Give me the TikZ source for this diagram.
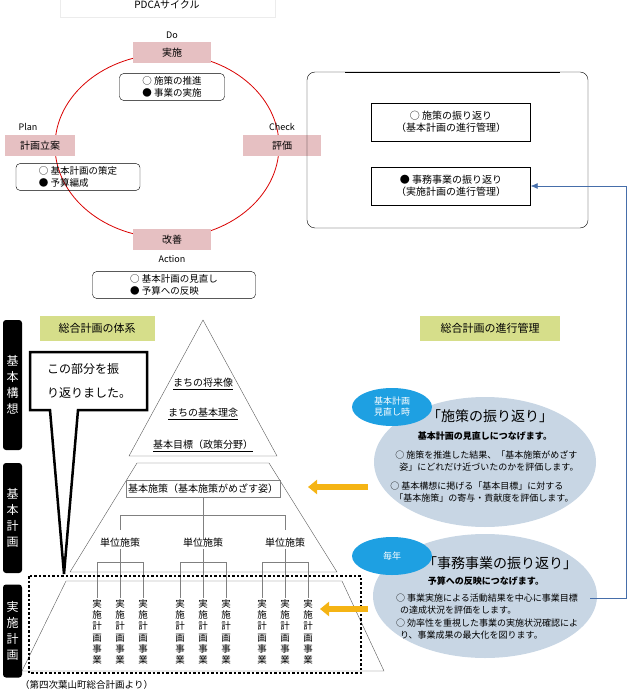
\documentclass[tikz,border=0pt]{standalone}
\usepackage{fontspec}
\setmainfont{Noto Sans CJK JP}
\usepackage{tikz}
\usepackage{xcolor}
\definecolor{pdca_pink}{RGB}{230,192,194}
\definecolor{plan_green}{RGB}{214,222,138}
\definecolor{eval_grey}{RGB}{200,214,228}
\definecolor{tag_blue}{RGB}{30,160,226}
\definecolor{arr_yellow}{RGB}{245,180,20}
\definecolor{link_blue}{RGB}{70,110,170}
\usetikzlibrary{calc, arrows.meta, positioning, shapes.geometric}

\begin{document}
\begin{tikzpicture}[x=1pt,y=-1pt,
    phase/.style={fill=pdca_pink,minimum width=78,minimum height=21,inner sep=0,font=\fontsize{10}{12}\selectfont},
    memo/.style={draw,rounded corners=4,align=left,font=\fontsize{9.5}{12}\selectfont,inner sep=3},
    plain/.style={draw,align=center,font=\fontsize{10}{12.5}\selectfont,inner sep=3},
    greenlabel/.style={fill=plan_green,minimum height=25,font=\fontsize{11}{13}\selectfont},
    sidebar/.style={fill=black,rounded corners=3,text=white,minimum width=19,align=center,font=\fontsize{12}{16}\selectfont},
    jigyo/.style={align=center,inner sep=0,fill=white,font=\fontsize{9.5}{11.3}\selectfont},
    tani/.style={inner sep=1,font=\fontsize{10}{12}\selectfont},
    tag/.style={ellipse,fill=tag_blue,text=white,align=center,minimum width=80,minimum height=38,inner sep=0,font=\fontsize{9}{11}\selectfont},
    goldarrow/.style={arr_yellow,line width=6,-{Triangle[length=9,width=14]}}]
\useasboundingbox (0,0) rectangle (628,692);
%PDCAサイクル
\draw[gray!15] (60,-2) rectangle (275,17);
\node (title) at (167,5) {\fontsize{10}{12}\selectfont PDCAサイクル};
\draw[red!85!black,thick] (167,146) ellipse (112 and 92);
\node[phase] (do) at (172,53) {実施};
\node[phase,minimum width=70] (plan) at (40,146) {計画立案};
\node[phase] (check) at (282,146) {評価};
\node[phase] (act) at (172,240) {改善};
\node[above=0pt of do,font=\small] (dolbl) {Do};
\node[above=1pt of plan,font=\small,xshift=-12] (planlbl) {Plan};
\node[above=1pt of check,font=\small] (checklbl) {Check};
\node[below=1pt of act,font=\small] (actlbl) {Action};
\node[memo,minimum width=105] (domemo) at (172,87) {○ 施策の推進\\● 事業の実施};
\node[memo,minimum width=124] (planmemo) at (78,177) {○ 基本計画の策定\\● 予算編成};
\node[memo,minimum width=163] (actmemo) at (174,285) {○ 基本計画の見直し\\● 予算への反映};
%評価の内容
\draw[rounded corners=8] (307,72) rectangle (588,228);
\draw[thick] (345,72) -- (560,72);
\node[plain,minimum width=159,minimum height=38] (rev1) at (451,122) {○ 施策の振り返り\\（基本計画の進行管理）};
\node[plain,minimum width=159,minimum height=38] (rev2) at (451,186) {● 事務事業の振り返り\\（実施計画の進行管理）};
%総合計画の体系
\node[sidebar,minimum height=130] (kousou) at (12.5,385) {基\\本\\構\\想};
\node[sidebar,minimum height=110] (keikaku) at (12.5,518) {基\\本\\計\\画};
\node[sidebar,minimum height=93] (jisshi) at (12.5,631) {実\\施\\計\\画};
\node[greenlabel,minimum width=115] (taikei) at (97,328) {総合計画の体系};
\node[greenlabel,minimum width=140] (kanri) at (490,328) {総合計画の進行管理};
%ピラミッド
\draw[gray!70!black] (203,320) -- (277,456) -- (129,456) -- cycle;
\draw[gray!70!black] (137,463) -- (269,463) -- (337,572) -- (70,572) -- cycle;
\draw[gray!70!black] (66,581) -- (342,581) -- (384,671) -- (22,671) -- cycle;
\node[font=\fontsize{10}{12}\selectfont] (shourai) at (203,384) {\underline{まちの将来像}};
\node[font=\fontsize{10}{12}\selectfont] (rinen) at (203,414) {\underline{まちの基本理念}};
\node[font=\fontsize{10}{12}\selectfont] (mokuhyou) at (203,446) {\underline{基本目標（政策分野）}};
\node[draw=gray,minimum width=154,minimum height=17,inner sep=0,font=\fontsize{10}{12}\selectfont] (shisaku) at (203,489) {基本施策（基本施策がめざす姿）};
\draw[gray] (shisaku.south) -- (203,540);
\draw[gray] (120,530) -- (120,515) -- (285,515) -- (285,530);
\foreach \cx/\nm in {120/a,203/b,285/c}{
  \node[tani] (tani\nm) at (\cx,543) {単位施策};
  \draw[gray] (\cx-23,598) -- (\cx-23,562) -- (\cx+23,562) -- (\cx+23,598);
  \draw[gray] (tani\nm.south) -- (\cx,598);
  \foreach \dx/\k in {-23/1,0/2,23/3}
    \node[jigyo,anchor=north] (jg\nm\k) at (\cx+\dx,599) {実\\施\\計\\画\\事\\業};
}
\draw[line width=2.5,dotted] (29,576) rectangle (361,673);
\node[anchor=north west,inner sep=0,font=\fontsize{9.5}{11}\selectfont] (source) at (20,680) {（第四次葉山町総合計画より）};
%吹き出し
\draw[line width=2.5,fill=white] (30,352) -- (147,352) -- (147,410) -- (78,410) -- (64,574) -- (50,410) -- (30,410) -- cycle;
\node[align=left,font=\fontsize{12}{24}\selectfont] (fukidashi) at (89,381) {この部分を振\\り返りました。};
%振り返り
\node[ellipse,fill=eval_grey,minimum width=222,minimum height=130] (ell1) at (485,462) {};
\node[ellipse,fill=eval_grey,minimum width=224,minimum height=124] (ell2) at (485,596) {};
\node[tag] (tag1) at (392,407) {基本計画\\見直し時};
\node[tag] (tag2) at (392,556) {毎年};
\node[font=\fontsize{14}{16}\selectfont] (t1) at (490,416) {「施策の振り返り」};
\node[font=\bfseries\fontsize{9}{11}\selectfont] (s1) at (485,436) {基本計画の見直しにつなげます。};
\node[align=left,font=\fontsize{9}{11.5}\selectfont] (i1) at (487,461) {○ 施策を推進した結果、「基本施策がめざす\\\ \ 姿」にどれだけ近づいたのかを評価します。};
\node[align=left,font=\fontsize{9}{11.5}\selectfont] (i2) at (482,492) {○ 基本構想に掲げる「基本目標」に対する\\\ \ 「基本施策」の寄与・貢献度を評価します。};
\node[font=\fontsize{14}{16}\selectfont] (t2) at (500,563) {「事務事業の振り返り」};
\node[font=\bfseries\fontsize{9}{11}\selectfont] (s2) at (486,581) {予算への反映につなげます。};
\node[align=left,font=\fontsize{9}{11.5}\selectfont] (i3) at (487,604) {○ 事業実施による活動結果を中心に事業目標\\\ \ の達成状況を評価をします。};
\node[align=left,font=\fontsize{9}{11.5}\selectfont] (i4) at (487,629) {○ 効率性を重視した事業の実施状況確認によ\\\ \ り、事業成果の最大化を図ります。};
%矢印
\coordinate (ret) at (590,598);
\draw[link_blue,semithick,-{Latex[length=7,width=6]}] (ret) -- (626,598) |- (rev2.east);
\draw[goldarrow] (368,487) -- (308,487);
\draw[goldarrow] (368,609) -- (320,609);
\end{tikzpicture}
\end{document}
